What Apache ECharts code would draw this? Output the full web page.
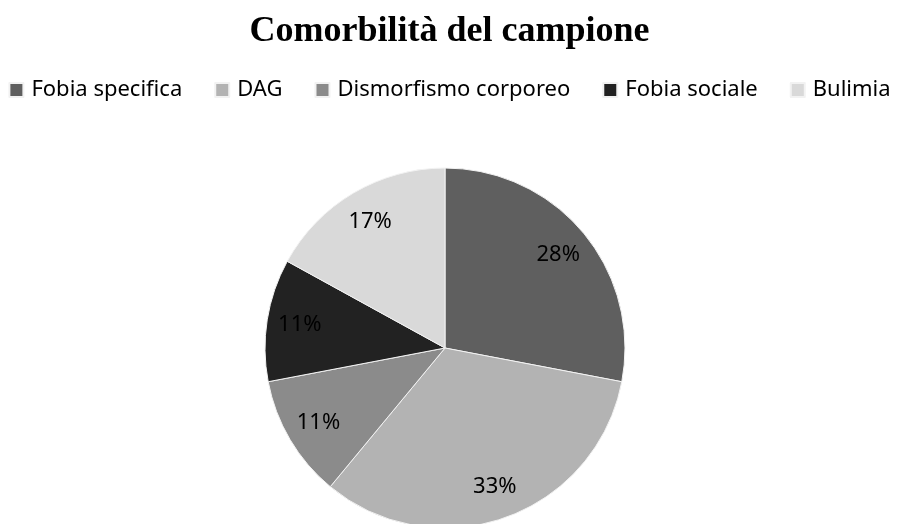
<!DOCTYPE html>
<html>
<head>
<meta charset="utf-8">
<script src="https://cdn.jsdelivr.net/npm/echarts@6/dist/echarts.min.js"></script>
<style>
  html, body { margin: 0; padding: 0; background: #fff; }
  #chart { width: 899px; height: 524px; }
</style>
</head>
<body>
<div id="chart"></div>
<script>
// dati del grafico
const categories = ['Fobia specifica', 'DAG', 'Dismorfismo corporeo', 'Fobia sociale', 'Bulimia']
const values = [28, 33, 11, 11, 17]
const colors = ['#5f5f5f', '#b3b3b3', '#8b8b8b', '#222222', '#d9d9d9']

const chart = echarts.init(document.getElementById('chart'))

const pieData = categories.map((name, i) => ({ name, value: values[i] }))

chart.setOption({
  animation: false,
  color: colors,
  title: {
    text: 'Comorbilità del campione',
    left: 'center',
    top: 9,
    textStyle: { fontFamily: 'Liberation Serif', fontWeight: 'bold', fontSize: 36, color: '#000' }
  },
  legend: {
    data: categories,
    top: 74,
    left: 'center',
    itemWidth: 14,
    itemHeight: 14,
    itemGap: 32,
    icon: 'rect',
    textStyle: { fontFamily: 'Noto Sans', fontSize: 22, color: '#000', padding: [0, 0, 0, 3] }
  },
  series: [
    {
      type: 'pie',
      center: [445, 348],
      radius: [0, 180],
      startAngle: 90,
      clockwise: true,
      label: { show: false },
      labelLine: { show: false },
      itemStyle: { borderColor: '#f2f2f2', borderWidth: 1 },
      data: pieData
    },
    {
      // anello trasparente solo per posizionare le etichette a ~80% del raggio
      type: 'pie',
      center: [445, 348],
      radius: [108, 180],
      startAngle: 90,
      clockwise: true,
      silent: true,
      legendHoverLink: false,
      itemStyle: { color: 'transparent' },
      label: {
        show: true,
        position: 'inside',
        formatter: '{c}%',
        fontFamily: 'Noto Sans',
        fontSize: 22,
        color: '#000'
      },
      labelLine: { show: false },
      data: pieData
    }
  ]
})
</script>
</body>
</html>
